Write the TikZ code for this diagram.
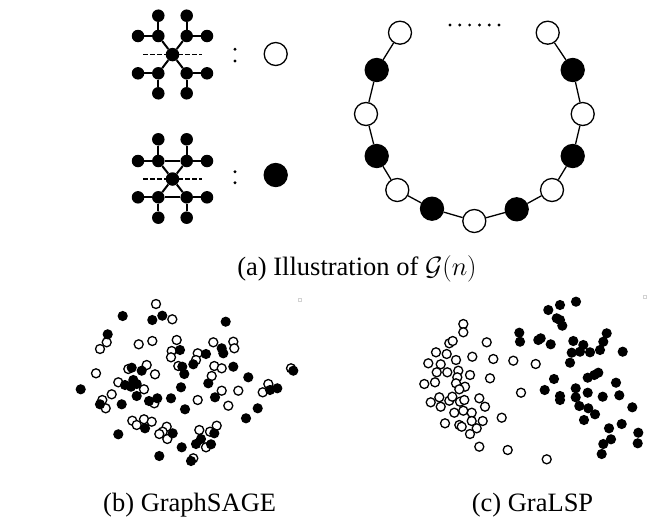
\RequirePackage{fix-cm}
\documentclass[tikz,border=0pt]{standalone}
\usepackage{fontspec}
\setmainfont{Liberation Serif}
\usepackage{amsmath}
\usepackage{amssymb}

\begin{document}
\begin{tikzpicture}[x=1pt, y=-1pt, every node/.style={align=center, font=\fontsize{26.5}{30}\selectfont}]
    % styles
    \tikzstyle{leaf} = [circle, fill=black, inner sep=0pt, minimum size=12.5pt]
    \tikzstyle{hub} = [circle, fill=black, inner sep=0pt, minimum size=13.5pt]
    \tikzstyle{wring} = [circle, draw=black, fill=white, line width=1.3pt, inner sep=0pt, minimum size=23pt]
    \tikzstyle{bring} = [circle, draw=black, fill=black, line width=1.3pt, inner sep=0pt, minimum size=23pt]
    \tikzstyle{edge} = [line width=2pt]
    \tikzstyle{ringedge} = [line width=1.3pt]
    \tikzstyle{cut} = [line width=1.7pt, dash pattern=on 4.5pt off 2.5pt]
    \tikzstyle{wdot} = [draw=black, fill=white, line width=1.3pt]
    \tikzstyle{bdot} = [fill=black]
    \tikzstyle{marker} = [draw=gray!35, line width=0.6pt]

    \useasboundingbox (0,0) rectangle (668,522);

    % pattern A (white)
    \node[hub] (hubA) at (172.5,54.6) {};
    \node[leaf] (ulA) at (158.3,36) {};
    \node[leaf] (urA) at (186.7,36) {};
    \node[leaf] (dlA) at (158.3,73.3) {};
    \node[leaf] (drA) at (186.7,73.3) {};
    \node[leaf] (ultA) at (158.3,15.7) {};
    \node[leaf] (urtA) at (186.7,15.7) {};
    \node[leaf] (ulsA) at (138,36) {};
    \node[leaf] (ursA) at (207,36) {};
    \node[leaf] (dlsA) at (138,73.3) {};
    \node[leaf] (drsA) at (207,73.3) {};
    \node[leaf] (dlbA) at (158.3,93.3) {};
    \node[leaf] (drbA) at (186.7,93.3) {};
    \coordinate (cutlA) at (143.3,54.6);
    \coordinate (cutrA) at (201.7,54.6);
    \node[wring] (keyA) at (275.7,54) {};

    \foreach \a/\b in {hubA/ulA, hubA/urA, hubA/dlA, hubA/drA, ulA/ultA, ulA/ulsA, urA/urtA, urA/ursA,
                       dlA/dlsA, dlA/dlbA, drA/drsA, drA/drbA}
        \draw[edge] (\a) -- (\b);
    \draw[cut] (cutlA) -- (cutrA);
    \fill (235,49.3) circle (1.6) (235,61) circle (1.6);

    % pattern B (black)
    \node[hub] (hubB) at (172.5,179) {};
    \node[leaf] (ulB) at (158.3,161) {};
    \node[leaf] (urB) at (186.7,161) {};
    \node[leaf] (dlB) at (158.3,197.3) {};
    \node[leaf] (drB) at (186.7,197.3) {};
    \node[leaf] (ultB) at (158.3,139.3) {};
    \node[leaf] (urtB) at (186.7,139.3) {};
    \node[leaf] (ulsB) at (138,161) {};
    \node[leaf] (ursB) at (207,161) {};
    \node[leaf] (dlsB) at (138,197.3) {};
    \node[leaf] (drsB) at (207,197.3) {};
    \node[leaf] (dlbB) at (158.3,217.7) {};
    \node[leaf] (drbB) at (186.7,217.7) {};
    \coordinate (cutlB) at (143.3,179);
    \coordinate (cutrB) at (201.7,179);
    \node[bring] (keyB) at (275.7,175) {};

    \foreach \a/\b in {hubB/ulB, hubB/urB, hubB/dlB, hubB/drB, ulB/ultB, ulB/ulsB, urB/urtB, urB/ursB,
                       dlB/dlsB, dlB/dlbB, drB/drsB, drB/drbB, ulB/urB, dlB/drB}
        \draw[edge] (\a) -- (\b);
    \draw[cut] (cutlB) -- (cutrB);
    \fill (235,171.7) circle (1.6) (235,182.7) circle (1.6);

    % ring G(n)
    \foreach \i/\x/\y/\s in {1/400/32.7/wring, 2/376.7/70/bring, 3/366/114/wring, 4/376.7/156/bring,
                             5/397.3/190/wring, 6/432/208.7/bring, 7/474.3/221/wring, 8/516.7/209.3/bring,
                             9/552/190/wring, 10/572.7/156/bring, 11/582.7/114/wring, 12/572.7/70/bring,
                             13/547.7/32.7/wring}
        \node[\s] (r\i) at (\x,\y) {};
    \foreach \i [evaluate=\i as \j using int(\i+1)] in {1,...,12}
        \draw[ringedge] (r\i) -- (r\j);
    \foreach \k in {0,...,5}
        \fill (450+9.8*\k,25) circle (1.6);

    \node[anchor=base] (capA) at (357,275.7) {(a) Illustration of $\mathcal{G}(n)$};

    % GraphSAGE embedding
    \foreach \x/\y in {156/304, 172.3/319.3, 106.7/342.3, 100/349, 138.7/344.3, 152.3/341, 176.7/340,
                       171.7/351, 171/357.3, 213.3/342.3, 233.3/341.7, 234.3/348.3, 197.7/353.3, 196/360,
                       178.3/366, 214.3/366, 221.7/368.3, 96/373.3, 128.3/369, 146.7/365, 155/374.3,
                       118.3/382.3, 144/389.3, 211.7/376, 221.7/390.7, 238.3/390.7, 268.3/384, 262.7/392.3,
                       291/368.3, 111.7/394.3, 102.3/400, 105.7/408.3, 154.3/403.3, 197.7/400, 228.3/405.7,
                       132.3/420.7, 136.7/425, 144/419.3, 151.7/421.7, 166.7/426.7, 162.7/431.7, 159.3/434,
                       167.3/439, 199.3/430, 210/431.7, 216.7/425.7, 206/447.3, 193.3/458.3}
        \draw[wdot] (\x,\y) circle (4.5);
    \foreach \x/\y in {122.7/316, 152.3/320, 162.3/315.7, 225.7/321.7, 107.7/334.3, 180/350, 221.7/348.3,
                       223.3/353.3, 206/354, 193.3/364.3, 182.3/366.7, 184.3/374, 233.3/366.7, 131.7/367.7,
                       141.7/370.7, 125/385, 133.3/380, 131/386.7, 136.7/384, 136.7/396, 80.7/389.3,
                       181/387.3, 208.3/383.3, 248.3/377.3, 270/390, 277.3/388.3, 293.3/370.7, 100/404.3,
                       121.7/404.3, 149/401, 157.3/398.3, 171/398.3, 215/397.3, 185/409.3, 257.7/408.3,
                       246/418.3, 145/428.3, 118.3/434.3, 172.7/433.3, 214.3/433.3, 201/439, 196/444,
                       211/444.3, 181.7/447.3, 159.3/456, 191/461}
        \fill[bdot] (\x,\y) circle (5.1);
    \draw[marker] (298.5,297.8) rectangle (301.5,300.8);
    \node[anchor=base] (capB) at (189.7,511.3) {(b) GraphSAGE};

    % GraLSP embedding
    \foreach \x/\y in {463.3/324, 463.3/332.3, 449.3/343.3, 452.7/341, 486.7/342.3, 436/352.3, 446.7/354,
                       472.3/356.7, 493.3/359, 513.3/360.7, 535.7/364, 428.3/363.3, 440.7/364.3, 456/360,
                       436.7/372.3, 447.3/372.3, 458.3/370.7, 457.3/377.3, 470/375, 490/378.3, 424.3/384,
                       435/382.3, 456/383.3, 465/386.7, 459.3/389.3, 521/392.7, 439.3/397.3, 430.7/402.3,
                       449.3/400.7, 452.3/396.7, 460/401.7, 464.3/400, 479.3/398.3, 440.7/406.7, 485/406.7,
                       454.3/412.7, 463.3/410.7, 471.7/412.7, 501.7/417.7, 445/423.3, 459.3/425, 461.7/426.7,
                       471.7/421, 482.7/421, 476.7/428.3, 470/434, 479.3/446.7, 507.7/450, 546.7/459.3}
        \draw[wdot] (\x,\y) circle (4.5);
    \foreach \x/\y in {548.3/310, 560/305, 576/301.7, 556.7/318.3, 560/320, 562.3/325.7, 519.3/332.7,
                       520/341.7, 538.3/340, 540.7/338.3, 550.7/344.3, 573.3/341, 583.3/345, 606.7/333.3,
                       603.3/341.7, 571.7/352.7, 580/351.7, 590/352.3, 600/350, 622.7/351.7, 570/362.7,
                       598.3/372.7, 594.3/375, 587.7/377.7, 554/379, 616/382.7, 544.7/390, 575.7/388.3,
                       587.7/392.7, 560/396, 560/400, 575.7/397.3, 602.7/396.7, 619.3/395.3, 579.3/406,
                       588.3/408.3, 595/414.3, 584/420, 632.3/407.3, 621.7/424, 609/428.3, 638.3/432.7,
                       611/439.3, 603.3/444, 637.7/443.3, 601.7/454}
        \fill[bdot] (\x,\y) circle (5.1);
    \draw[marker] (643.5,295.2) rectangle (646.5,298.2);
    \node[anchor=base] (capC) at (532.5,511.3) {(c) GraLSP};
\end{tikzpicture}
\end{document}
